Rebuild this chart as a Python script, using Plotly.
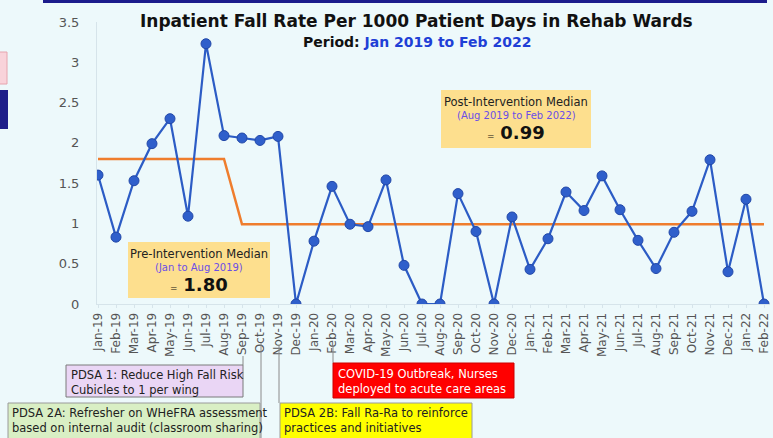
import plotly.graph_objects as go

months = ["Jan-19","Feb-19","Mar-19","Apr-19","May-19","Jun-19","Jul-19","Aug-19","Sep-19","Oct-19","Nov-19","Dec-19",
          "Jan-20","Feb-20","Mar-20","Apr-20","May-20","Jun-20","Jul-20","Aug-20","Sep-20","Oct-20","Nov-20","Dec-20",
          "Jan-21","Feb-21","Mar-21","Apr-21","May-21","Jun-21","Jul-21","Aug-21","Sep-21","Oct-21","Nov-21","Dec-21",
          "Jan-22","Feb-22"]
fall_rate = [1.60,0.83,1.53,1.99,2.30,1.09,3.23,2.09,2.06,2.03,2.08,0.00,
             0.78,1.46,0.99,0.96,1.54,0.48,0.00,0.00,1.37,0.90,0.00,1.08,
             0.43,0.81,1.39,1.16,1.59,1.17,0.79,0.44,0.89,1.15,1.79,0.40,
             1.30,0.00]
pre_median = 1.80
post_median = 0.99
pre_months = 8  # Jan-Aug 2019
median_line = [pre_median]*pre_months + [post_median]*(len(months)-pre_months)
y_ticks = [0, 0.5, 1, 1.5, 2, 2.5, 3, 3.5]
y_tick_text = ["0", "0.5", "1", "1.5", "2", "2.5", "3", "3.5"]

W, H = 773, 438
L, R, T, B = 97, 770, 22, 304
idx = list(range(len(months)))

def px(x):
    return (x - L) / (R - L)

def py(y):
    return (B - y) / (B - T)

fig = go.Figure()
fig.add_trace(go.Scatter(x=idx, y=median_line, mode="lines",
                         line=dict(color="#ef7d2d", width=2.5), hoverinfo="skip"))
fig.add_trace(go.Scatter(x=idx, y=fall_rate, mode="lines+markers",
                         line=dict(color="#2c5cc5", width=2.2),
                         marker=dict(color="#2f5fcb", size=10, line=dict(color="#2248a8", width=1))))

shapes = []
ann = []

def rect(x0, y0, x1, y1, fill, border=None, bw=1):
    shapes.append(dict(type="rect", xref="paper", yref="paper", x0=px(x0), x1=px(x1), y0=py(y1), y1=py(y0),
                       fillcolor=fill, line=dict(color=border if border else fill, width=bw if border else 0),
                       layer="above"))

def vline(x, y0, y1, color="#8a8a8a", w=1):
    shapes.append(dict(type="line", xref="paper", yref="paper", x0=px(x), x1=px(x), y0=py(y0), y1=py(y1),
                       line=dict(color=color, width=w), layer="above"))

def text(x, y, t, size=12, color="#222", xanchor="left", yanchor="top", align="left", family="DejaVu Sans"):
    ann.append(dict(xref="paper", yref="paper", x=px(x), y=py(y), text=t, showarrow=False,
                    xanchor=xanchor, yanchor=yanchor, align=align,
                    font=dict(size=size, color=color, family=family)))

# slide artifacts
rect(43, -3, 767, 3, "#1c1c8c")
rect(-3, 52, 7, 84, "#f9d3da", "#e6a4ae")
rect(-3, 90, 8, 129, "#1e1e8a")

# titles
text(416, 9, "<b>Inpatient Fall Rate Per 1000 Patient Days in Rehab Wards</b>", size=17, color="#111",
     xanchor="center", yanchor="top", align="center")
text(417, 32, "<b>Period: <span style='color:#1f3fd6'>Jan 2019 to Feb 2022</span></b>", size=14, color="#111",
     xanchor="center", yanchor="top", align="center")

# median boxes
rect(128, 242, 270, 298, "#fddf8e")
text(199, 245, "Pre-Intervention Median", size=11.5, color="#222", xanchor="center")
text(199, 260, "(Jan to Aug 2019)", size=10, color="#6b4ee6", xanchor="center")
text(199, 272, "<span style='font-size:9px'>=</span> <b>1.80</b>", size=18, color="#111", xanchor="center")

rect(441, 90, 591, 148, "#fddf8e")
text(516, 93, "Post-Intervention Median", size=11.5, color="#222", xanchor="center")
text(516, 108, "(Aug 2019 to Feb 2022)", size=10, color="#6b4ee6", xanchor="center")
text(516, 120, "<span style='font-size:9px'>=</span> <b>0.99</b>", size=18, color="#111", xanchor="center")

# bottom intervention boxes
vline(243, 356, 365)
vline(261, 343, 440)
vline(279, 345, 403)
vline(333, 345, 363)
rect(66, 365, 243, 397, "#ead6f5", "#7a7a7a")
text(69, 366, "PDSA 1: Reduce High Fall Risk<br>Cubicles to 1 per wing", size=11.5, color="#222")
rect(8, 403, 260, 441, "#d9efc4", "#9a9a9a")
text(10, 404, "PDSA 2A: Refresher on WHeFRA assessment<br>based on internal audit (classroom sharing)", size=11.5, color="#222")
rect(280, 403, 472, 441, "#ffff00", "#9a9a9a")
text(282, 404, "PDSA 2B: Fall Ra-Ra to reinforce<br>practices and initiatives", size=11.5, color="#222")
rect(333, 363, 514, 398, "#ff0000", "#cc0000")
text(336, 365, "COVID-19 Outbreak, Nurses<br>deployed to acute care areas", size=11.5, color="#ffffff")

fig.update_layout(
    width=W, height=H,
    margin=dict(l=L, r=W - R, t=T, b=H - B),
    paper_bgcolor="#edf9fb", plot_bgcolor="#edf9fb",
    showlegend=False,
    shapes=shapes, annotations=ann,
    font=dict(family="DejaVu Sans", color="#555"),
)
fig.update_xaxes(range=[-1/18, 37 + 6/18], tickmode="array", tickvals=idx, ticktext=months,
                 tickangle=-90, tickfont=dict(size=12, color="#555"), showgrid=False,
                 showline=True, linecolor="#d6e4ea", linewidth=1, zeroline=False,
                 ticks="outside", ticklen=3, tickcolor="#d6e4ea")
fig.update_yaxes(range=[0, 3.5], tickmode="array", tickvals=y_ticks, ticktext=y_tick_text,
                 tickfont=dict(size=13, color="#555"), showgrid=False, zeroline=False,
                 showline=True, linecolor="#d6e4ea", linewidth=1, ticks="", ticklabelstandoff=14)

fig.write_html("out.html", config={"displayModeBar": False},
               post_script="document.body.style.margin='0';document.body.style.overflow='hidden';document.body.style.background='#edf9fb';")
